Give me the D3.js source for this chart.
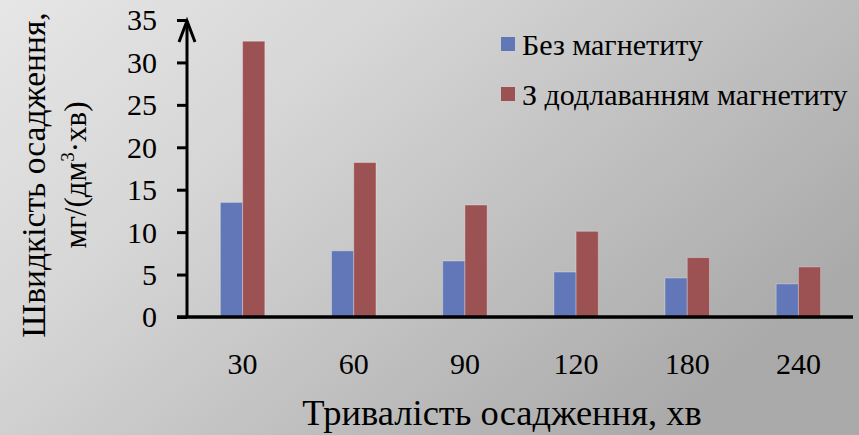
<!DOCTYPE html>
<html>
<head>
<meta charset="utf-8">
<script src="https://cdn.jsdelivr.net/npm/d3@7"></script>
<style>
  html, body { margin: 0; padding: 0; background: #d0d0d0; }
  svg { display: block; }
  text { font-family: "Liberation Serif", "Times New Roman", serif; fill: #000; }
</style>
</head>
<body>
<svg id="chart" width="859" height="435"></svg>
<script>
// Deposition duration (min) and deposition rate, mg/(dm³·min)
const durations = ["30", "60", "90", "120", "180", "240"];
const withoutMagnetite = [13.5, 7.8, 6.6, 5.3, 4.6, 3.9];
const withMagnetite = [32.5, 18.2, 13.2, 10.1, 7.0, 5.9];
const seriesNames = ["Без магнетиту", "З додлаванням магнетиту"];
const seriesColors = ["#6177b8", "#9c5252"];
const yTicks = [0, 5, 10, 15, 20, 25, 30, 35];

const W = 859, H = 435;
const svg = d3.select("#chart");

// Soft grey backdrop, lighter at the upper left
const defs = svg.append("defs");
const bg = defs.append("linearGradient").attr("id", "bg")
  .attr("x1", "0").attr("y1", "0").attr("x2", "1").attr("y2", "0.6");
bg.append("stop").attr("offset", "0").attr("stop-color", "#e6e6e6");
bg.append("stop").attr("offset", "0.35").attr("stop-color", "#d6d6d6");
bg.append("stop").attr("offset", "1").attr("stop-color", "#aaaaaa");
svg.append("rect").attr("width", W).attr("height", H).attr("fill", "url(#bg)");

const x0 = 187, x1 = 854, yBottom = 317, yTop = 20;

const x = d3.scaleBand().domain(durations).range([x0, x1])
  .paddingInner(0.6).paddingOuter(0.3);
const xs = d3.scaleBand().domain([0, 1]).range([0, x.bandwidth()]);
const y = d3.scaleLinear().domain([0, 35]).range([yBottom, yTop]);

// Bars
const groups = svg.append("g").selectAll("g").data(durations).join("g")
  .attr("transform", d => `translate(${x(d)},0)`);
groups.selectAll("rect")
  .data((d, i) => [withoutMagnetite[i], withMagnetite[i]])
  .join("rect")
  .attr("x", (v, j) => xs(j))
  .attr("y", v => y(v))
  .attr("width", xs.bandwidth())
  .attr("height", v => y(0) - y(v))
  .attr("fill", (v, j) => seriesColors[j])
  .attr("stroke", "rgba(255,255,255,0.3)")
  .attr("stroke-width", 1);

// Y axis with ticks
const yAxis = svg.append("g").attr("transform", `translate(${x0},0)`)
  .call(d3.axisLeft(y).tickValues(yTicks).tickSize(10).tickPadding(20));
yAxis.select(".domain").remove();
yAxis.selectAll(".tick line").attr("stroke", "#000").attr("stroke-width", 3);
yAxis.selectAll(".tick text")
  .attr("font-family", "Liberation Serif").attr("font-size", 30)
  .attr("dy", "0.33em").attr("fill", "#000");

// Vertical axis line with arrowhead
svg.append("line").attr("x1", x0).attr("x2", x0).attr("y1", yBottom).attr("y2", yTop + 1)
  .attr("stroke", "#000").attr("stroke-width", 3);
svg.append("path")
  .attr("d", `M${x0 - 8},${yTop + 22}L${x0},${yTop + 1}L${x0 + 8},${yTop + 22}`)
  .attr("fill", "none").attr("stroke", "#000").attr("stroke-width", 3)
  .attr("stroke-linejoin", "miter");

// X axis
const xAxis = svg.append("g").attr("transform", `translate(0,${yBottom})`)
  .call(d3.axisBottom(x).tickSize(0).tickPadding(36));
xAxis.select(".domain").remove();
xAxis.selectAll(".tick text")
  .attr("font-family", "Liberation Serif").attr("font-size", 30).attr("fill", "#000");
svg.append("line").attr("x1", x0 - 10).attr("x2", x1 - 1).attr("y1", yBottom).attr("y2", yBottom)
  .attr("stroke", "#000").attr("stroke-width", 3.5);

// Axis titles
svg.append("text").attr("x", 502).attr("y", 425).attr("text-anchor", "middle")
  .attr("font-size", 36.5).text("Тривалість осадження, хв");

const yt = svg.append("g").attr("transform", "translate(0,175) rotate(-90)");
yt.append("text").attr("x", 0).attr("y", 45).attr("text-anchor", "middle")
  .attr("font-size", 33.5).text("Швидкість осадження,");
const unit = yt.append("text").attr("x", 0).attr("y", 86).attr("text-anchor", "middle")
  .attr("font-size", 31);
unit.append("tspan").text("мг/(дм");
unit.append("tspan").attr("font-size", 19).attr("dy", -12).text("3");
unit.append("tspan").attr("dy", 12).text("·хв)");

// Legend
const legend = svg.append("g").selectAll("g").data(seriesNames).join("g")
  .attr("transform", (d, i) => `translate(501,${37 + i * 50})`);
legend.append("rect").attr("width", 14).attr("height", 14)
  .attr("fill", (d, i) => seriesColors[i]);
legend.append("text").attr("x", 21).attr("y", 18).attr("font-size", 30).text(d => d);
</script>
</body>
</html>
